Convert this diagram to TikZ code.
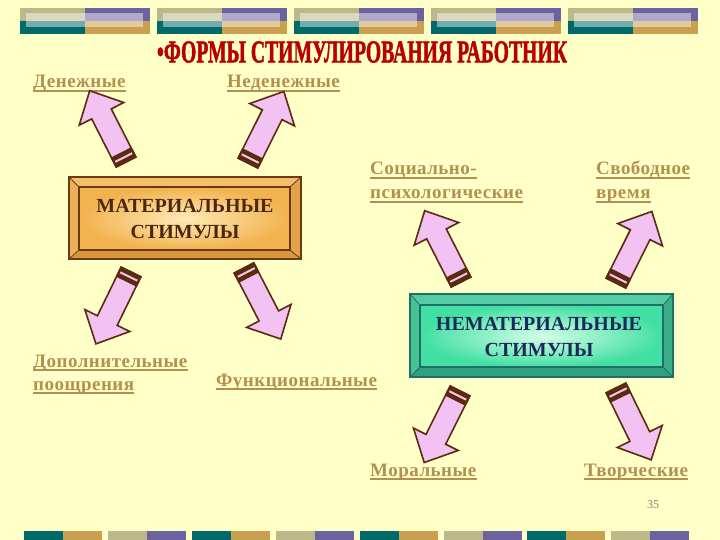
\documentclass[tikz,border=0pt]{standalone}
\usepackage{fontspec}
\setmainfont{Liberation Serif}
\usepackage{graphicx}
\definecolor{bg}{HTML}{FFFFC8}
\definecolor{barKhaki}{HTML}{BDB88A}
\definecolor{barPurple}{HTML}{6C62A0}
\definecolor{barTeal}{HTML}{006A6A}
\definecolor{barGold}{HTML}{C8A050}
\definecolor{titlecol}{HTML}{B80000}
\definecolor{labelcol}{HTML}{B39050}
\definecolor{arrpink}{HTML}{F2C2F2}
\definecolor{arrbrown}{HTML}{5C2A10}
\definecolor{arrstripe}{HTML}{F0C8E8}
\definecolor{matBorder}{HTML}{6B3A12}
\definecolor{matTop}{HTML}{F3BD6A}
\definecolor{matLeft}{HTML}{EDB05A}
\definecolor{matRight}{HTML}{E3A24C}
\definecolor{matBot}{HTML}{D8963E}
\definecolor{matOut}{HTML}{F2B24E}
\definecolor{matIn}{HTML}{FFEAB8}
\definecolor{matText}{HTML}{4A2810}
\definecolor{nmBorder}{HTML}{1F6E6A}
\definecolor{nmTop}{HTML}{55CCA2}
\definecolor{nmLeft}{HTML}{48C098}
\definecolor{nmRight}{HTML}{3AAE88}
\definecolor{nmBot}{HTML}{32A07E}
\definecolor{nmOut}{HTML}{42DFA2}
\definecolor{nmIn}{HTML}{D4FFE8}
\definecolor{nmText}{HTML}{1B2A5A}
\definecolor{numcol}{HTML}{8C8470}
\newcommand\blockarrow[2]{%
  \begin{scope}[shift={(#1)},rotate=#2]
    \filldraw[fill=arrpink,draw=arrbrown,line width=1.6pt,line join=miter]
      (0,-11) -- (54,-11) -- (54,-25) -- (80,0) -- (54,25) -- (54,11) -- (0,11) -- cycle;
    \fill[arrbrown] (0,-11) rectangle (10,11);
    \fill[arrstripe] (4,-9.5) rectangle (6,9.5);
    \draw[arrbrown,line width=1.6pt] (0,-11) rectangle (10,11);
  \end{scope}}
\newcommand\ullabel[3]{%
  \node[lbl] (#1) at (#2) {#3};
  \draw[uline] ([yshift=-3pt]#1.base west) -- ([yshift=-3pt]#1.base east);}
\begin{document}
\begin{tikzpicture}[x=1pt,y=-1pt,
  lbl/.style={anchor=base west,inner sep=0pt,text=labelcol,
    font=\fontsize{19}{24}\selectfont\bfseries\addfontfeatures{LetterSpace=2.5}},
  uline/.style={draw=labelcol,line width=1.3pt},
  boxtext/.style={align=center,inner sep=0pt,font=\fontsize{20}{26}\selectfont\bfseries}]
\useasboundingbox (0,0) rectangle (720,540);
\fill[bg] (0,0) rectangle (720,540);
% top bars
\foreach \i in {0,...,4}{
  \pgfmathsetmacro\xa{20+137*\i}
  \fill[barKhaki] (\xa,8) rectangle (\xa+65,21);
  \fill[barTeal] (\xa,21) rectangle (\xa+65,34);
  \fill[barPurple] (\xa+65,8) rectangle (\xa+130,21);
  \fill[barGold] (\xa+65,21) rectangle (\xa+130,34);
  \fill[white,opacity=0.45] (\xa+6,13.5) rectangle (\xa+123,27.5);
}
% bottom bars
\foreach \j in {0,...,7}{
  \pgfmathsetmacro\xb{24+83.9*\j}
  \ifodd\j
    \fill[barKhaki] (\xb,531) rectangle (\xb+39,540);
    \fill[barPurple] (\xb+39,531) rectangle (\xb+78,540);
  \else
    \fill[barTeal] (\xb,531) rectangle (\xb+39,540);
    \fill[barGold] (\xb+39,531) rectangle (\xb+78,540);
  \fi
}
% title
\node[inner sep=0pt,text=titlecol] (title) at (362,52)
  {\resizebox{410pt}{21pt}{\bfseries\addfontfeatures{FakeBold=2}•ФОРМЫ СТИМУЛИРОВАНИЯ РАБОТНИК}};
% material box
\fill[matTop] (69,177) -- (301,177) -- (290,187) -- (79,187) -- cycle;
\fill[matBot] (69,259) -- (301,259) -- (290,250) -- (79,250) -- cycle;
\fill[matLeft] (69,177) -- (79,187) -- (79,250) -- (69,259) -- cycle;
\fill[matRight] (301,177) -- (290,187) -- (290,250) -- (301,259) -- cycle;
\shade[inner color=matIn,outer color=matOut] (79,187) rectangle (290,250);
\draw[matBorder,line width=0.8pt] (69,177) -- (79,187) (301,177) -- (290,187)
  (69,259) -- (79,250) (301,259) -- (290,250);
\draw[matBorder,line width=1.6pt] (79,187) rectangle (290,250);
\draw[matBorder,line width=2.6pt] (69,177) rectangle (301,259);
\node[boxtext,text=matText] (mat) at (185,219) {МАТЕРИАЛЬНЫЕ\\СТИМУЛЫ};
% non-material box
\fill[nmTop] (410,294) -- (673,294) -- (663,305) -- (420,305) -- cycle;
\fill[nmBot] (410,377) -- (673,377) -- (663,367) -- (420,367) -- cycle;
\fill[nmLeft] (410,294) -- (420,305) -- (420,367) -- (410,377) -- cycle;
\fill[nmRight] (673,294) -- (663,305) -- (663,367) -- (673,377) -- cycle;
\shade[inner color=nmIn,outer color=nmOut] (420,305) rectangle (663,367);
\draw[nmBorder,line width=0.8pt] (410,294) -- (420,305) (673,294) -- (663,305)
  (410,377) -- (420,367) (673,377) -- (663,367);
\draw[nmBorder,line width=1.6pt] (420,305) rectangle (663,367);
\draw[nmBorder,line width=2.6pt] (410,294) rectangle (673,377);
\node[boxtext,text=nmText] (nm) at (539,337) {НЕМАТЕРИАЛЬНЫЕ\\СТИМУЛЫ};
% labels
\ullabel{den}{33,88}{Денежные}
\ullabel{neden}{227,88}{Неденежные}
\ullabel{soc1}{370,175}{Социально-}
\ullabel{soc2}{370,199}{психологические}
\ullabel{svob1}{596,175}{Свободное}
\ullabel{svob2}{596,199}{время}
\ullabel{dop1}{33,367}{Дополнительные}
\ullabel{dop2}{33,390}{поощрения}
\ullabel{func}{216,386}{Функциональные}
\ullabel{mor}{370,476}{Моральные}
\ullabel{tvor}{584,476}{Творческие}
\node[anchor=base west,inner sep=0pt,text=numcol,font=\fontsize{12}{14}\selectfont] (num) at (647,508) {35};
% arrows
\coordinate (t1) at (126,162);
\coordinate (t2) at (248,163);
\coordinate (t3) at (131,272);
\coordinate (t4) at (244,268);
\coordinate (t5) at (461,282);
\coordinate (t6) at (616,283);
\coordinate (t7) at (460,391);
\coordinate (t8) at (616,388);
\blockarrow{t1}{117}
\blockarrow{t2}{63.4}
\blockarrow{t3}{-116}
\blockarrow{t4}{-62.6}
\blockarrow{t5}{117}
\blockarrow{t6}{63.4}
\blockarrow{t7}{-116.6}
\blockarrow{t8}{-63.9}
\end{tikzpicture}
\end{document}
